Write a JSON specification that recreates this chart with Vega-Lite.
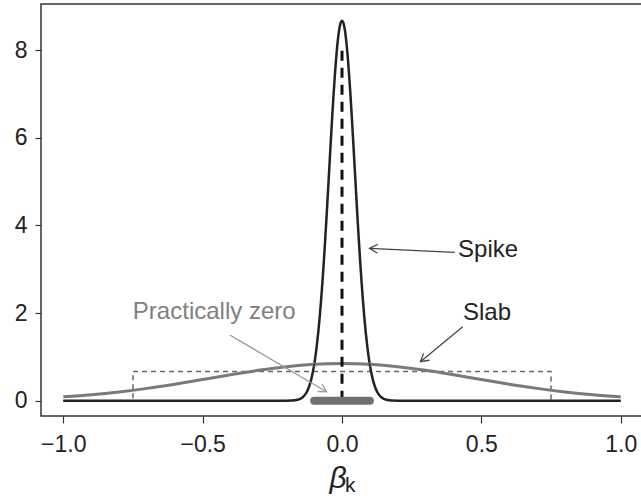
{
  "$schema": "https://vega.github.io/schema/vega-lite/v6.json",
  "width": 602,
  "height": 412,
  "autosize": {"type": "none"},
  "padding": {"left": 41, "top": 4, "right": 0, "bottom": 82},
  "background": "white",
  "config": {
    "font": "Liberation Sans",
    "view": {"stroke": "#333", "strokeWidth": 1.5},
    "axis": {"grid": false, "domain": false, "tickColor": "#333", "tickWidth": 1.2, "labelColor": "#222", "labelFont": "Liberation Sans", "labelFontSize": 23, "labelFlush": false, "labelOverlap": false, "titleColor": "#222"}
  },
  "datasets": {
    "spike": [
      {"x": -1, "y": 0}, {"x": -0.3, "y": 0}, {"x": -0.25, "y": 0}, {"x": -0.2, "y": 0.0007}, {"x": -0.18, "y": 0.0041}, {"x": -0.17, "y": 0.0094}, {"x": -0.16, "y": 0.0205}, {"x": -0.15, "y": 0.0426}, {"x": -0.145, "y": 0.0603}, {"x": -0.14, "y": 0.0845}, {"x": -0.135, "y": 0.117}, {"x": -0.13, "y": 0.160}, {"x": -0.125, "y": 0.216}, {"x": -0.12, "y": 0.289}, {"x": -0.115, "y": 0.381}, {"x": -0.11, "y": 0.497}, {"x": -0.105, "y": 0.641}, {"x": -0.1, "y": 0.816}, {"x": -0.095, "y": 1.028}, {"x": -0.09, "y": 1.279}, {"x": -0.085, "y": 1.572}, {"x": -0.08, "y": 1.911}, {"x": -0.075, "y": 2.295}, {"x": -0.07, "y": 2.724}, {"x": -0.065, "y": 3.195}, {"x": -0.06, "y": 3.703}, {"x": -0.055, "y": 4.242}, {"x": -0.05, "y": 4.803}, {"x": -0.045, "y": 5.373}, {"x": -0.04, "y": 5.941}, {"x": -0.035, "y": 6.491}, {"x": -0.03, "y": 7.009}, {"x": -0.025, "y": 7.480}, {"x": -0.02, "y": 7.888}, {"x": -0.015, "y": 8.221}, {"x": -0.01, "y": 8.467}, {"x": -0.005, "y": 8.619},
      {"x": 0, "y": 8.67},
      {"x": 0.005, "y": 8.619}, {"x": 0.01, "y": 8.467}, {"x": 0.015, "y": 8.221}, {"x": 0.02, "y": 7.888}, {"x": 0.025, "y": 7.480}, {"x": 0.03, "y": 7.009}, {"x": 0.035, "y": 6.491}, {"x": 0.04, "y": 5.941}, {"x": 0.045, "y": 5.373}, {"x": 0.05, "y": 4.803}, {"x": 0.055, "y": 4.242}, {"x": 0.06, "y": 3.703}, {"x": 0.065, "y": 3.195}, {"x": 0.07, "y": 2.724}, {"x": 0.075, "y": 2.295}, {"x": 0.08, "y": 1.911}, {"x": 0.085, "y": 1.572}, {"x": 0.09, "y": 1.279}, {"x": 0.095, "y": 1.028}, {"x": 0.1, "y": 0.816}, {"x": 0.105, "y": 0.641}, {"x": 0.11, "y": 0.497}, {"x": 0.115, "y": 0.381}, {"x": 0.12, "y": 0.289}, {"x": 0.125, "y": 0.216}, {"x": 0.13, "y": 0.160}, {"x": 0.135, "y": 0.117}, {"x": 0.14, "y": 0.0845}, {"x": 0.145, "y": 0.0603}, {"x": 0.15, "y": 0.0426}, {"x": 0.16, "y": 0.0205}, {"x": 0.17, "y": 0.0094}, {"x": 0.18, "y": 0.0041}, {"x": 0.2, "y": 0.0007}, {"x": 0.25, "y": 0}, {"x": 0.3, "y": 0}, {"x": 1, "y": 0}
    ],
    "slab": [
      {"x": -1.0, "y": 0.0883}, {"x": -0.9, "y": 0.1357}, {"x": -0.8, "y": 0.1994}, {"x": -0.7, "y": 0.2801}, {"x": -0.6, "y": 0.3758}, {"x": -0.5, "y": 0.4821}, {"x": -0.4, "y": 0.5911}, {"x": -0.3, "y": 0.6925}, {"x": -0.2, "y": 0.7755}, {"x": -0.1, "y": 0.830}, {"x": 0, "y": 0.849}, {"x": 0.1, "y": 0.830}, {"x": 0.2, "y": 0.7755}, {"x": 0.3, "y": 0.6925}, {"x": 0.4, "y": 0.5911}, {"x": 0.5, "y": 0.4821}, {"x": 0.6, "y": 0.3758}, {"x": 0.7, "y": 0.2801}, {"x": 0.8, "y": 0.1994}, {"x": 0.9, "y": 0.1357}, {"x": 1.0, "y": 0.0883}
    ],
    "uniform": [
      {"o": 1, "x": -1, "y": 0}, {"o": 2, "x": -0.75, "y": 0}, {"o": 3, "x": -0.75, "y": 0.667}, {"o": 4, "x": 0.75, "y": 0.667}, {"o": 5, "x": 0.75, "y": 0}, {"o": 6, "x": 1, "y": 0}
    ],
    "vline": [{"x": 0, "y": 0, "y2": 8}],
    "zero": [{"x": -0.1, "x2": 0.1, "y": 0}],
    "cross": [{"x": -0.0995, "y": 0.83}, {"x": 0.0995, "y": 0.83}],
    "arrowsDark": [
      {"id": "spike_shaft", "o": 1, "x": 0.4044, "y": 3.383}, {"id": "spike_shaft", "o": 2, "x": 0.0989, "y": 3.475},
      {"id": "spike_head", "o": 1, "x": 0.1269, "y": 3.363}, {"id": "spike_head", "o": 2, "x": 0.0989, "y": 3.475}, {"id": "spike_head", "o": 3, "x": 0.1284, "y": 3.568},
      {"id": "slab_shaft", "o": 1, "x": 0.4331, "y": 1.686}, {"id": "slab_shaft", "o": 2, "x": 0.2815, "y": 0.8875},
      {"id": "slab_head", "o": 1, "x": 0.3134, "y": 0.9218}, {"id": "slab_head", "o": 2, "x": 0.2815, "y": 0.8875}, {"id": "slab_head", "o": 3, "x": 0.2926, "y": 1.0792}
    ],
    "arrowsLight": [
      {"id": "pz_shaft", "o": 1, "x": -0.4023, "y": 1.497}, {"id": "pz_shaft", "o": 2, "x": -0.0556, "y": 0.203},
      {"id": "pz_head", "o": 1, "x": -0.0714, "y": 0.381}, {"id": "pz_head", "o": 2, "x": -0.0556, "y": 0.203}, {"id": "pz_head", "o": 3, "x": -0.0878, "y": 0.205}
    ],
    "labelsDark": [
      {"label": "Spike", "x": 0.4163, "y": 3.269},
      {"label": "Slab", "x": 0.4342, "y": 1.839}
    ],
    "labelsLight": [
      {"label": "Practically zero", "x": -0.7504, "y": 1.864}
    ],
    "subscript": [
      {"label": "k", "x": 0.0112, "y": -2.085}
    ]
  },
  "encoding": {
    "x": {
      "field": "x", "type": "quantitative",
      "scale": {"domain": [-1.08, 1.08], "nice": false, "zero": false},
      "axis": {"values": [-1, -0.5, 0, 0.5, 1], "format": ".1f", "tickSize": 7, "labelPadding": 10, "title": "β", "titleFont": "Liberation Sans", "titleFontSize": 30, "titleFontStyle": "italic", "titleFontWeight": "normal", "titleAlign": "center", "titleBaseline": "alphabetic", "titleX": 296.5, "titleY": 71}
    },
    "y": {
      "field": "y", "type": "quantitative",
      "scale": {"domain": [-0.35, 9.05], "nice": false, "zero": false},
      "axis": {"values": [0, 2, 4, 6, 8], "tickSize": 6, "labelPadding": 8, "title": null}
    }
  },
  "layer": [
    {
      "data": {"name": "uniform"},
      "mark": {"type": "line", "color": "#666", "strokeWidth": 1.5, "strokeDash": [5, 4]},
      "encoding": {"order": {"field": "o", "type": "quantitative"}}
    },
    {
      "data": {"name": "slab"},
      "mark": {"type": "line", "color": "#7a7a7a", "strokeWidth": 3, "interpolate": "monotone"},
      "encoding": {}
    },
    {
      "data": {"name": "spike"},
      "mark": {"type": "line", "color": "#222", "strokeWidth": 2.5, "interpolate": "monotone"},
      "encoding": {}
    },
    {
      "data": {"name": "vline"},
      "mark": {"type": "rule", "color": "#111", "strokeWidth": 3, "strokeDash": [10, 7]},
      "encoding": {"y2": {"field": "y2"}}
    },
    {
      "data": {"name": "zero"},
      "mark": {"type": "rule", "color": "#707070", "strokeWidth": 8, "strokeCap": "round"},
      "encoding": {"x2": {"field": "x2"}}
    },
    {
      "data": {"name": "cross"},
      "mark": {"type": "point", "shape": "triangle-up", "size": 22, "filled": false, "color": "#999", "strokeWidth": 1}
    },
    {
      "data": {"name": "arrowsDark"},
      "mark": {"type": "line", "color": "#444", "strokeWidth": 1.3},
      "encoding": {"detail": {"field": "id"}, "order": {"field": "o", "type": "quantitative"}}
    },
    {
      "data": {"name": "arrowsLight"},
      "mark": {"type": "line", "color": "#999", "strokeWidth": 1.3},
      "encoding": {"detail": {"field": "id"}, "order": {"field": "o", "type": "quantitative"}}
    },
    {
      "data": {"name": "labelsDark"},
      "mark": {"type": "text", "align": "left", "baseline": "alphabetic", "fontSize": 24, "font": "Liberation Sans", "color": "#222"},
      "encoding": {"text": {"field": "label"}}
    },
    {
      "data": {"name": "labelsLight"},
      "mark": {"type": "text", "align": "left", "baseline": "alphabetic", "fontSize": 24, "font": "Liberation Sans", "color": "#808080"},
      "encoding": {"text": {"field": "label"}}
    },
    {
      "data": {"name": "subscript"},
      "mark": {"type": "text", "align": "left", "baseline": "alphabetic", "fontSize": 21, "font": "Liberation Sans", "color": "#222"},
      "encoding": {"text": {"field": "label"}}
    }
  ]
}
